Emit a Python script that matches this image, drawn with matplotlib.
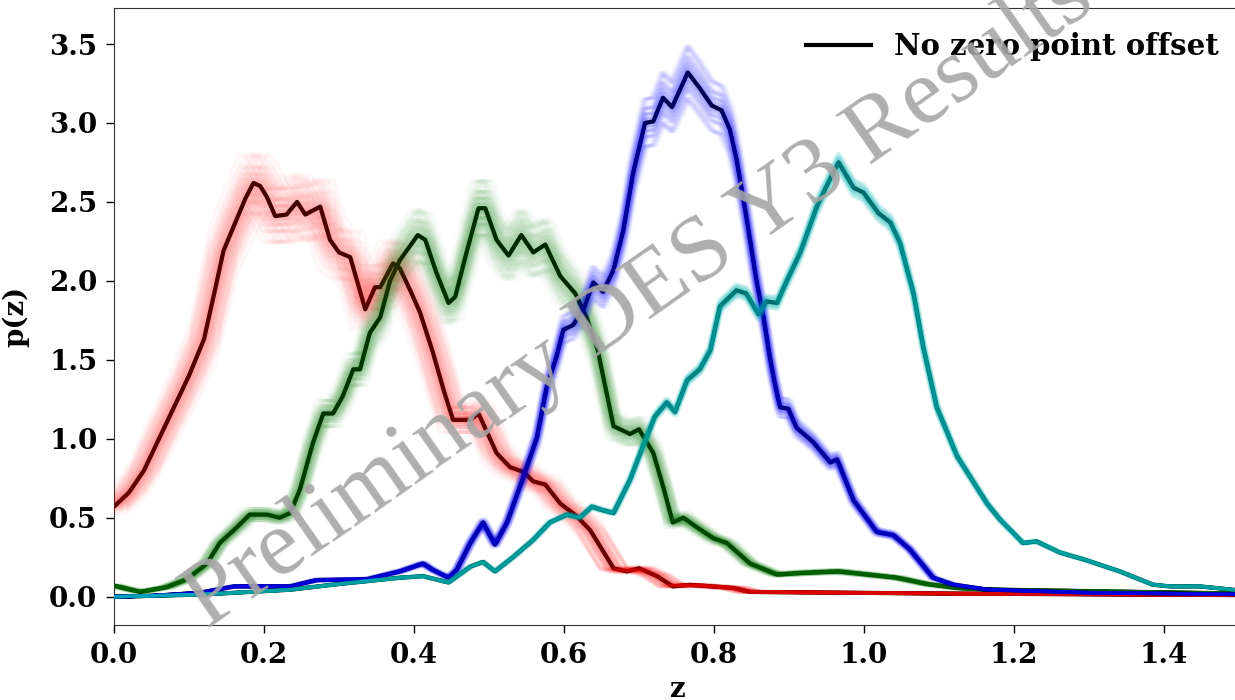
import numpy as np
import matplotlib.pyplot as plt

# redshift distributions, one knot list per bin
z_red = [0.00, 0.02, 0.04, 0.06, 0.08, 0.10, 0.12, 0.135, 0.146, 0.16, 0.175, 0.186, 0.195,
         0.204, 0.215, 0.23, 0.244, 0.255, 0.275, 0.288, 0.30, 0.315, 0.335, 0.348, 0.355,
         0.372, 0.381, 0.395, 0.408, 0.425, 0.44, 0.452, 0.475, 0.486, 0.51, 0.528, 0.546,
         0.559, 0.575, 0.595, 0.617, 0.635, 0.648, 0.666, 0.684, 0.70, 0.724, 0.745, 0.768,
         0.826, 0.848, 0.977, 1.10, 1.30, 1.50]
p_red = [0.57, 0.66, 0.80, 1.00, 1.20, 1.40, 1.63, 1.95, 2.19, 2.35, 2.52, 2.62, 2.60,
         2.53, 2.41, 2.42, 2.50, 2.42, 2.47, 2.26, 2.18, 2.15, 1.82, 1.96, 1.96,
         2.11, 2.08, 1.94, 1.80, 1.55, 1.30, 1.12, 1.12, 1.16, 0.91, 0.82, 0.79,
         0.73, 0.71, 0.59, 0.51, 0.42, 0.32, 0.18, 0.16, 0.18, 0.13, 0.065, 0.075,
         0.055, 0.03, 0.025, 0.02, 0.015, 0.01]

z_green = [0.00, 0.035, 0.07, 0.097, 0.124, 0.141, 0.164, 0.181, 0.204, 0.221, 0.235, 0.248,
           0.265, 0.279, 0.292, 0.305, 0.319, 0.328, 0.341, 0.355, 0.368, 0.381, 0.405, 0.415,
           0.43, 0.446, 0.455, 0.47, 0.486, 0.495, 0.51, 0.526, 0.543, 0.559, 0.575, 0.595,
           0.615, 0.63, 0.645, 0.655, 0.666, 0.688, 0.70, 0.719, 0.732, 0.745, 0.759, 0.777,
           0.799, 0.817, 0.848, 0.884, 0.915, 0.966, 1.044, 1.084, 1.124, 1.164, 1.30, 1.50]
p_green = [0.07, 0.03, 0.06, 0.11, 0.21, 0.34, 0.44, 0.52, 0.52, 0.50, 0.53, 0.68,
           0.97, 1.16, 1.16, 1.27, 1.44, 1.44, 1.67, 1.77, 2.00, 2.13, 2.29, 2.26,
           2.05, 1.86, 1.90, 2.18, 2.46, 2.46, 2.26, 2.16, 2.29, 2.18, 2.23, 2.03,
           1.92, 1.77, 1.56, 1.33, 1.08, 1.03, 1.06, 0.91, 0.70, 0.47, 0.50, 0.44,
           0.37, 0.34, 0.21, 0.14, 0.15, 0.16, 0.12, 0.08, 0.055, 0.045, 0.035, 0.02]

z_blue = [0.00, 0.05, 0.115, 0.16, 0.235, 0.27, 0.337, 0.381, 0.412, 0.425, 0.446, 0.457,
          0.475, 0.492, 0.508, 0.524, 0.546, 0.564, 0.577, 0.59, 0.599, 0.612, 0.626, 0.639,
          0.652, 0.666, 0.679, 0.692, 0.708, 0.719, 0.732, 0.744, 0.765, 0.781, 0.797, 0.81,
          0.821, 0.83, 0.843, 0.857, 0.866, 0.875, 0.881, 0.888, 0.899, 0.91, 0.932, 0.955,
          0.964, 0.986, 1.017, 1.039, 1.061, 1.092, 1.119, 1.164, 1.30, 1.50]
p_blue = [0.00, 0.005, 0.025, 0.065, 0.065, 0.105, 0.11, 0.16, 0.21, 0.17, 0.12, 0.17,
          0.34, 0.47, 0.33, 0.47, 0.76, 1.01, 1.33, 1.52, 1.69, 1.72, 1.82, 1.99,
          1.93, 2.07, 2.32, 2.68, 3.00, 3.01, 3.16, 3.10, 3.32, 3.22, 3.11, 3.08,
          2.96, 2.77, 2.41, 1.99, 1.77, 1.50, 1.35, 1.20, 1.19, 1.07, 0.98, 0.85,
          0.87, 0.61, 0.41, 0.39, 0.30, 0.12, 0.076, 0.045, 0.025, 0.015]

z_cyan = [0.00, 0.115, 0.235, 0.292, 0.381, 0.412, 0.446, 0.475, 0.492, 0.508, 0.532, 0.559,
          0.581, 0.604, 0.621, 0.637, 0.65, 0.666, 0.688, 0.705, 0.721, 0.737, 0.748, 0.764,
          0.781, 0.795, 0.808, 0.83, 0.843, 0.859, 0.87, 0.884, 0.897, 0.915, 0.937, 0.95,
          0.966, 0.986, 0.999, 1.019, 1.035, 1.048, 1.066, 1.079, 1.097, 1.124, 1.164, 1.181,
          1.212, 1.23, 1.261, 1.297, 1.341, 1.385, 1.408, 1.448, 1.50]
p_cyan = [0.00, 0.013, 0.044, 0.076, 0.12, 0.13, 0.09, 0.19, 0.22, 0.16, 0.25, 0.36,
          0.47, 0.52, 0.50, 0.57, 0.55, 0.53, 0.74, 0.95, 1.14, 1.23, 1.17, 1.37,
          1.44, 1.56, 1.84, 1.94, 1.92, 1.79, 1.87, 1.86, 2.00, 2.18, 2.47, 2.60,
          2.75, 2.59, 2.56, 2.43, 2.37, 2.24, 1.92, 1.58, 1.20, 0.89, 0.59, 0.49,
          0.34, 0.35, 0.28, 0.23, 0.16, 0.076, 0.065, 0.065, 0.04]

# spread of the realisations around each curve: (z shift, relative amplitude)
bins = [
    (z_red, p_red, 'r', 0.018, 0.07),
    (z_green, p_green, 'g', 0.010, 0.07),
    (z_blue, p_blue, 'b', 0.005, 0.05),
    (z_cyan, p_cyan, 'c', 0.003, 0.02),
]
# realisations bunch towards the middle of the band
offsets = np.array([-1.0, -0.6, -0.35, -0.15, 0.0, 0.15, 0.35, 0.6, 1.0])

fig = plt.figure(figsize=(12.35, 7), dpi=100)
ax = fig.add_axes([0.0923, 0.107, 0.911, 0.882])

fs = 20

for z, p, col, dz, da in bins:
    z = np.array(z)
    p = np.array(p)
    ax.plot(z, p, color='k', lw=3.0, zorder=2)
    for sh in dz * offsets:
        for amp in da * offsets:
            ax.plot(z + sh, p * (1 + amp), color=col, lw=2.6, alpha=0.032, zorder=3)

ax.plot([], [], color='k', lw=3, label='No zero point offset')
ax.legend(loc='upper right', frameon=False,
          prop={'family': 'DejaVu Serif', 'weight': 'bold', 'size': 21},
          handlelength=2.2, borderaxespad=0.45, bbox_to_anchor=(1.004, 1.0))

ax.set_xlim(0, 1.5)
ax.set_ylim(-0.18, 3.73)
ax.set_xticks([0.0, 0.2, 0.4, 0.6, 0.8, 1.0, 1.2, 1.4])
ax.set_yticks([0.0, 0.5, 1.0, 1.5, 2.0, 2.5, 3.0, 3.5])
ax.set_xticklabels(['%.1f' % v for v in ax.get_xticks()], family='DejaVu Serif', weight='bold', size=fs)
ax.set_yticklabels(['%.1f' % v for v in ax.get_yticks()], family='DejaVu Serif', weight='bold', size=fs)
ax.tick_params(direction='out', length=6, width=1, pad=6)
ax.set_xlabel('z', family='DejaVu Serif', weight='bold', size=fs, labelpad=5)
ax.set_ylabel('p(z)', family='DejaVu Serif', weight='bold', size=fs, labelpad=14)
for s in ax.spines.values():
    s.set_color('#333333')

ax.text(0.70, 1.88, 'Preliminary DES Y3 Results', family='Liberation Serif', size=68,
        color='0.65', alpha=0.9, rotation=35, ha='center', va='center',
        rotation_mode='anchor', zorder=10)

fig.savefig('out.png', dpi=100)
